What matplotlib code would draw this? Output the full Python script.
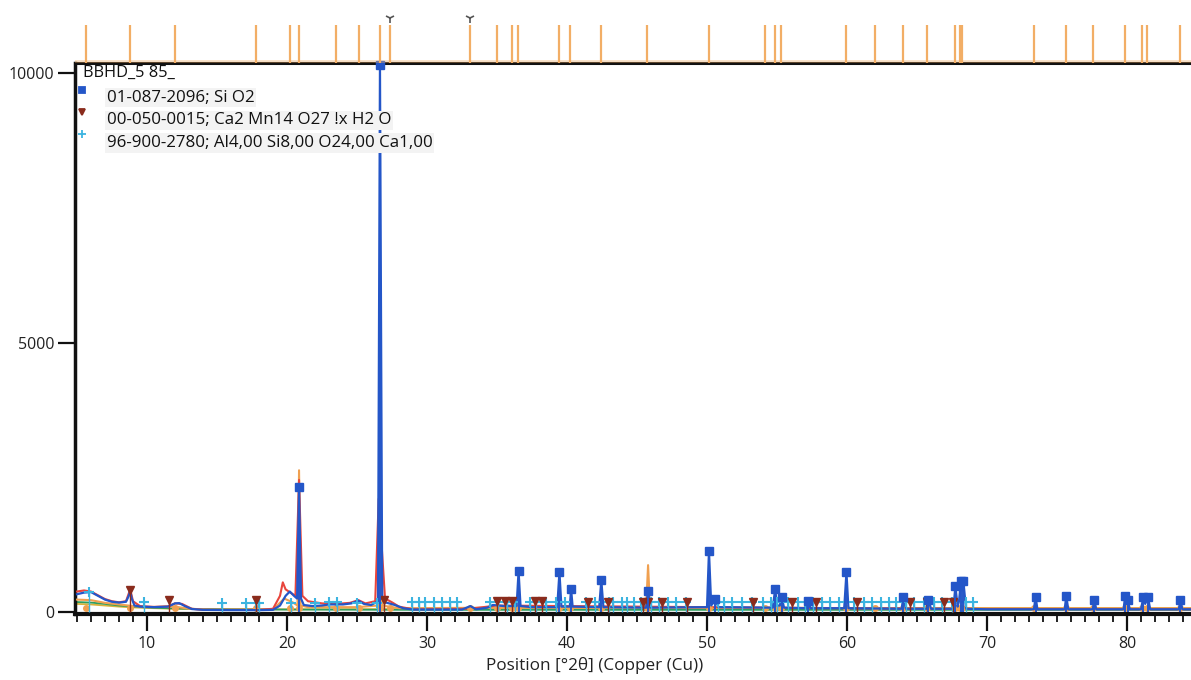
import matplotlib
matplotlib.use("Agg")
import matplotlib.pyplot as plt
from matplotlib.ticker import MultipleLocator, FixedLocator

plt.rcParams['font.family'] = ['Open Sans', 'DejaVu Sans']

# ---------------- data ----------------
# observed pattern (blue)
obs_x = [5.0, 5.5, 6.0, 6.5, 7.0, 7.5, 8.0, 8.5, 8.7, 8.8, 8.9, 9.1, 9.5, 10.5, 11.5, 12.0, 12.3, 12.7,
         13.2, 14.0, 16.0, 18.0, 19.0, 19.5, 19.9, 20.2, 20.5, 20.72, 20.86, 21.0, 21.2, 21.8, 22.5,
         23.0, 24.0, 24.6, 25.1, 25.5, 26.0, 26.5, 26.64, 26.8, 27.0, 27.3, 27.7, 28.3, 29.0, 32.5,
         33.1, 33.5, 34.3, 34.7, 35.5, 36.4, 36.54, 36.68, 37.5, 39.3, 39.46, 39.6, 40.2, 40.29, 40.4,
         42.3, 42.45, 42.6, 45.65, 45.79, 45.95, 50.0, 50.14, 50.3, 50.6, 50.8, 54.7, 54.87, 55.0,
         55.2, 55.33, 55.5, 57.1, 57.24, 57.4, 59.8, 59.96, 60.1, 63.9, 64.03, 64.2, 65.7, 65.82,
         66.0, 67.6, 67.74, 67.9, 68.0, 68.14, 68.22, 68.31, 68.5, 70.0, 73.35, 73.47, 73.6, 75.55,
         75.66, 75.8, 77.55, 77.67, 77.8, 79.75, 79.88, 79.98, 80.05, 80.2, 81.0, 81.17, 81.3, 81.5,
         81.65, 83.7, 83.82, 83.95, 84.6]
obs_y = [330, 360, 370, 300, 230, 190, 175, 190, 300, 400, 260, 120, 100, 90, 100, 160, 165, 110,
         55, 40, 35, 35, 40, 120, 300, 380, 300, 250, 2320, 250, 130, 110, 120,
         140, 140, 160, 210, 150, 130, 200, 10150, 250, 180, 160, 130, 70, 45, 45,
         110, 50, 80, 130, 110, 110, 760, 110, 90, 90, 740, 100, 100, 430, 100,
         90, 590, 90, 80, 390, 80, 90, 1130, 120, 240, 90, 80, 430, 120,
         120, 280, 80, 70, 200, 70, 70, 740, 70, 60, 280, 60, 60, 220,
         60, 60, 480, 100, 200, 575, 400, 575, 60, 50, 50, 280, 50, 50,
         300, 50, 50, 220, 50, 50, 300, 150, 220, 50, 50, 280, 150, 280,
         50, 50, 220, 50, 50]

# second profile (red)
red_x = [5.0, 5.5, 6.0, 6.5, 7.0, 7.5, 8.0, 8.5, 8.8, 9.0, 9.5, 10.5, 11.5, 12.0, 12.5, 13.2, 14.0,
         18.0, 19.0, 19.5, 19.7, 19.9, 20.3, 20.6, 20.86, 21.1, 21.5, 22.5, 23.5, 24.5, 25.1, 25.6,
         26.3, 26.55, 27.0, 27.5, 28.0, 29.0, 33.0, 35.0, 40.0, 45.0, 50.0, 60.0, 70.0, 84.6]
red_y = [380, 400, 380, 310, 240, 200, 180, 200, 420, 200, 110, 95, 105, 160, 150, 60, 40,
         40, 60, 300, 550, 420, 350, 300, 2450, 300, 200, 160, 150, 170, 220, 160,
         200, 2100, 250, 180, 100, 50, 60, 120, 110, 100, 90, 70, 55, 50]

# calculated profile (orange)
calc_x = [5.0, 6.0, 7.0, 8.0, 9.0, 10.0, 12.0, 13.0, 15.0, 19.0, 19.8, 20.4, 20.75, 20.86, 20.97,
          21.5, 25.0, 26.5, 26.64, 26.8, 28.0, 35.0, 45.65, 45.79, 45.93, 55.0, 70.0, 84.6]
calc_y = [230, 220, 170, 140, 110, 90, 100, 60, 40, 45, 250, 180, 120, 2630, 120,
          90, 90, 120, 3000, 120, 70, 80, 80, 870, 80, 75, 70, 70]

# background (green) and second background (yellow)
bg_x = [5.0, 6.0, 7.0, 8.0, 9.0, 10.0, 12.0, 15.0, 20.0, 30.0, 40.0, 50.0, 60.0, 70.0, 84.6]
bg_y = [185, 175, 150, 120, 100, 85, 65, 50, 45, 40, 40, 40, 40, 40, 40]
bg2_y = [150, 140, 120, 100, 85, 75, 60, 50, 50, 55, 60, 65, 70, 75, 75]

# reference peak list (orange sticks, top)
ref_pos = [5.64, 8.79, 12.0, 17.79, 20.21, 20.86, 23.5, 25.14, 26.64, 27.36, 33.07, 35.0, 36.07,
           36.5, 39.43, 40.21, 42.43, 45.71, 50.14, 54.14, 54.86, 55.29, 59.93, 62.0, 64.0, 65.71,
           67.71, 68.07, 68.21, 73.36, 75.64, 77.57, 79.86, 81.07, 81.43, 83.79]
flag_pos = [27.36, 33.07]

# phase 1: 01-087-2096; Si O2 (blue squares)
sio2_pos = [20.86, 26.64, 36.54, 39.46, 40.29, 42.45, 45.79, 50.14, 50.6, 54.87, 55.33, 57.24,
            59.96, 64.03, 65.82, 67.74, 68.14, 68.31, 73.47, 75.66, 77.67, 79.88, 80.05, 81.17,
            81.5, 83.82]
sio2_h = [2320, 10150, 760, 740, 430, 590, 390, 1130, 240, 430, 280, 200,
          740, 280, 220, 480, 575, 575, 280, 300, 220, 300, 220, 280,
          280, 220]

# phase 2: 00-050-0015; Ca2 Mn14 O27 !x H2O (dark red triangles)
camn_pos = [8.79, 11.6, 17.79, 26.9, 35.0, 35.6, 36.1, 37.7, 38.2, 41.5, 42.9, 45.4, 45.8, 46.8,
            48.6, 53.3, 56.1, 57.8, 60.7, 64.5, 65.7, 66.9, 67.6]
camn_h = [400, 220, 230, 220, 200, 200, 200, 200, 200, 190, 190, 190, 190, 190,
          190, 180, 180, 180, 180, 180, 180, 180, 180]

# phase 3: 96-900-2780; Al4,00 Si8,00 O24,00 Ca1,00 (cyan pluses)
alsi_pos = [5.86, 9.79, 15.36, 17.07, 17.79, 18.0, 20.3, 22.0, 23.0, 23.57, 25.0, 26.4, 28.93,
            29.43, 29.86, 30.5, 31.07, 31.64, 32.14, 34.5, 35.07, 35.7, 36.3, 37.36, 37.8, 38.5,
            39.2, 39.86, 41.36, 42.0, 43.0, 43.3, 43.9, 44.3, 44.8, 45.3, 46.0, 46.6, 47.2, 47.8,
            48.5, 50.8, 51.2, 51.8, 52.5, 53.2, 54.0, 54.6, 55.0, 55.8, 56.5, 57.0, 57.6, 58.2,
            58.8, 59.4, 60.5, 61.2, 61.8, 62.4, 63.0, 63.5, 64.2, 64.8, 65.5, 66.2, 66.8, 67.5,
            68.5, 69.0]
alsi_h = [370, 190, 170, 170, 170, 170, 170, 170, 180, 180, 170, 170, 190,
          190, 190, 190, 190, 190, 190, 190, 190, 190, 190, 190, 190, 190,
          190, 190, 190, 190, 190, 190, 190, 190, 190, 190, 190, 190, 190, 190,
          190, 190, 190, 190, 190, 190, 190, 190, 190, 190, 190, 190, 190, 190,
          190, 190, 190, 190, 190, 190, 190, 190, 190, 190, 190, 190, 190, 190,
          190, 190]

legend_title = "BBHD_5 85_"
legend_rows = ["01-087-2096; Si O2",
               "00-050-0015; Ca2 Mn14 O27 !x H2 O",
               "96-900-2780; Al4,00 Si8,00 O24,00 Ca1,00"]
x_label = "Position [°2θ] (Copper (Cu))"
y_ticks = [0, 5000, 10000]

# ---------------- styling ----------------
C_BLUE = '#2456c8'
C_RED = '#e8453c'
C_ORANGE = '#f0a050'
C_GREEN = '#2e9e5e'
C_YEL = '#d9b23a'
C_DRED = '#8a2b1c'
C_CYAN = '#3cb4e0'
C_STICK = '#f2ae66'

W, H = 1191, 680
fig = plt.figure(figsize=(W / 100, H / 100), dpi=100)
L, R, B, T = 75, 1191, 614, 63
ax = fig.add_axes([L / W, 1 - B / H, (R - L) / W, (B - T) / H])
axt = fig.add_axes([L / W, 1 - T / H, (R - L) / W, (T - 8) / H], sharex=ax)

xmin, xmax = 4.857, 84.57
ymin, ymax = -37, 10186

ax.plot(bg_x, bg2_y, color=C_YEL, lw=1.3, zorder=2)
ax.plot(bg_x, bg_y, color=C_GREEN, lw=1.3, zorder=2)
ax.plot(calc_x, calc_y, color=C_ORANGE, lw=1.5, zorder=3)
ax.plot(red_x, red_y, color=C_RED, lw=1.5, zorder=3)

# orange reference markers near baseline
ax.plot(ref_pos, [70] * len(ref_pos), linestyle='none', marker='o', ms=4,
        color=C_ORANGE, zorder=3)

ax.plot(obs_x, obs_y, color=C_BLUE, lw=1.6, zorder=4)

# phase markers with stems
ax.vlines(alsi_pos, 0, alsi_h, color=C_CYAN, lw=1.0, zorder=5)
ax.plot(alsi_pos, alsi_h, linestyle='none', marker='+', ms=7, mew=1.5, color=C_CYAN, zorder=5)
ax.vlines(camn_pos, 0, camn_h, color=C_DRED, lw=1.0, zorder=5)
ax.plot(camn_pos, camn_h, linestyle='none', marker='v', ms=5.5, color=C_DRED, zorder=6)
ax.vlines(sio2_pos, 0, sio2_h, color=C_BLUE, lw=1.4, zorder=6)
ax.plot(sio2_pos, sio2_h, linestyle='none', marker='s', ms=6, color=C_BLUE, zorder=7,
        clip_on=False)

ax.set_xlim(xmin, xmax)
ax.set_ylim(ymin, ymax)

# spines and ticks
ax.spines['right'].set_visible(False)
ax.spines['left'].set_linewidth(2.5)
ax.spines['bottom'].set_linewidth(3)
ax.spines['top'].set_linewidth(2.2)
for s in ['left', 'bottom', 'top']:
    ax.spines[s].set_color('#111111')

ax.xaxis.set_major_locator(MultipleLocator(10))
ax.xaxis.set_minor_locator(MultipleLocator(1))
ax.yaxis.set_major_locator(FixedLocator(y_ticks))
ax.tick_params(axis='x', which='major', direction='out', length=12, width=1.6,
               labelsize=11.5, pad=4, color='#111111', labelcolor='#222222')
ax.tick_params(axis='x', which='minor', direction='out', length=6, width=1.3, color='#111111')
ax.tick_params(axis='y', which='major', direction='out', length=12, width=1.6,
               labelsize=11.5, pad=3, color='#111111', labelcolor='#222222')
ax.set_xlabel(x_label, fontsize=12.3, color='#222222')
ax.xaxis.set_label_coords((595 - L) / (R - L), -0.078)

# legend inside the axes (axes fraction coordinates)
ax.text(0.0075, 0.982, legend_title, transform=ax.transAxes, fontsize=11.8,
        va='center', ha='left', color='#111111', zorder=8)
leg_marker_y = [0.951, 0.911, 0.871]
leg_text_y = [0.937, 0.896, 0.855]
leg_styles = [('s', C_BLUE, 5), ('v', C_DRED, 5), ('+', C_CYAN, 6)]
for (mk, col, ms), my, ty, txt in zip(leg_styles, leg_marker_y, leg_text_y, legend_rows):
    ax.plot([0.0063], [my], transform=ax.transAxes, marker=mk, ms=ms, color=col,
            mew=1.3, linestyle='none', clip_on=False, zorder=8)
    ax.text(0.0287, ty, txt, transform=ax.transAxes, fontsize=12.2, va='center',
            ha='left', color='#111111', zorder=8,
            bbox=dict(boxstyle='square,pad=0.1', facecolor='#f3f3f3', edgecolor='none'))

# top reference stick panel
axt.vlines(ref_pos, 0, 0.7, color=C_STICK, lw=1.6)
axt.plot(flag_pos, [0.82] * len(flag_pos), linestyle='none', marker='1', ms=7,
         mew=1.2, color='#555555')
axt.axhline(0, color=C_STICK, lw=5, alpha=0.35)
axt.set_ylim(0, 1)
axt.set_xlim(xmin, xmax)
axt.axis('off')

fig.savefig('out.png', dpi=100)
